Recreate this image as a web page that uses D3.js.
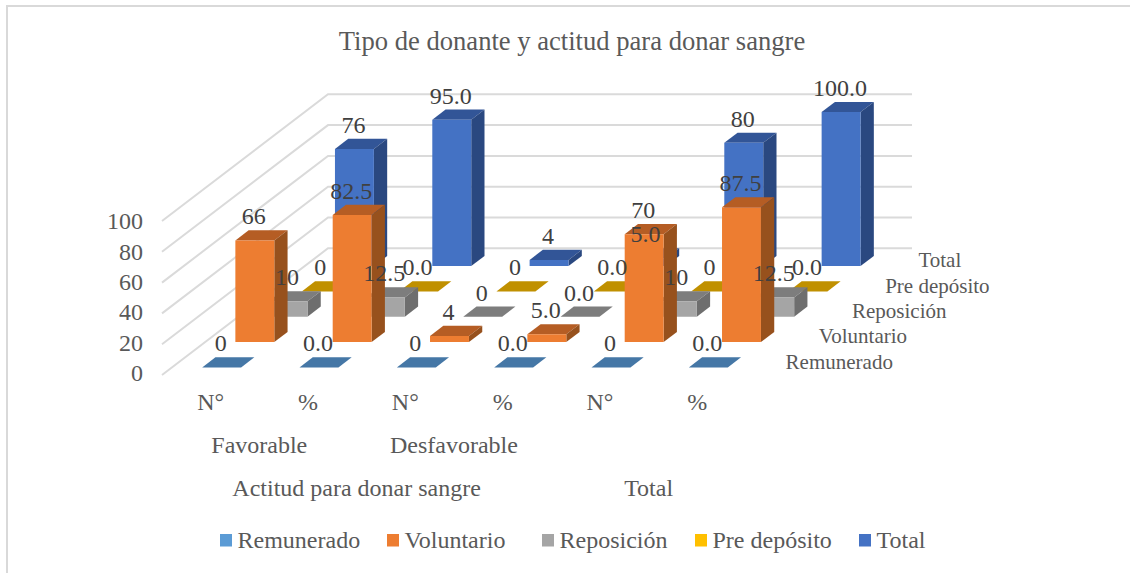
<!DOCTYPE html>
<html>
<head>
<meta charset="utf-8">
<script src="https://cdn.jsdelivr.net/npm/d3@7"></script>
<style>
  html, body { margin: 0; padding: 0; background: #fff; }
  svg { display: block; }
  text { font-family: "Liberation Serif", "Times New Roman", serif; fill: #595959; }
</style>
</head>
<body>
<div id="chart"></div>
<script>
const seriesNames = ['Remunerado', 'Voluntario', 'Reposición', 'Pre depósito', 'Total'];
const columns = ['N°', '%', 'N° ', '% ', 'N°  ', '%  '];
const attitudes = ['Favorable', 'Desfavorable', ''];
const groups = ['Actitud para donar sangre', 'Total'];
const yTicks = [0, 20, 40, 60, 80, 100];

const remunerado = [0, 0, 0, 0, 0, 0];
const voluntario = [66, 82.5, 4, 5, 70, 87.5];
const reposicion = [10, 12.5, 0, 0, 10, 12.5];
const preDeposito = [0, 0, 0, 0, 0, 0];
const total = [76, 95, 4, 5, 80, 100];
const seriesValues = [remunerado, voluntario, reposicion, preDeposito, total];

const front = ['#5B9BD5', '#ED7D31', '#A5A5A5', '#FFC000', '#4472C4'];
const topFace = ['#4577A6', '#B55D24', '#7D7D7D', '#C09000', '#325597'];
const sideFace = ['#3A6389', '#97511D', '#6E6E6E', '#9E7600', '#2A4880'];

const width = 1130, height = 573;
const svg = d3.select('#chart').append('svg').attr('width', width).attr('height', height);

// frame of the chart, only top and left are visible in the picture
svg.append('path')
  .attr('d', `M7,${height}V6H${width}`)
  .attr('fill', 'none').attr('stroke', '#D9D9D9').attr('stroke-width', 2);

// oblique projection: floor position across, depth, then height
const floorLeft = 162, floorFront = 375, floorWidth = 584;
const x = d3.scaleBand().domain(columns).range([1, floorWidth + 1]).paddingInner(0.6).paddingOuter(0.3);
const z = d3.scaleBand().domain(seriesNames).range([0, 5]).paddingInner(0.6).paddingOuter(0.3);
const depthX = d3.scaleLinear().domain([0, 5]).range([0, 166]);
const depthY = d3.scaleLinear().domain([0, 5]).range([0, 126.7]);
const h = d3.scaleLinear().domain([0, 100]).range([0, 154]);

const px = (u, d) => floorLeft + u + depthX(d);
const py = (d, v) => floorFront - depthY(d) - h(v);
const poly = pts => 'M' + pts.map(p => p.join(',')).join('L') + 'Z';

// gridlines on side wall and back wall
const grid = svg.append('g').attr('fill', 'none').attr('stroke', '#DADADA').attr('stroke-width', 2);
yTicks.forEach(v => {
  grid.append('path').attr('d', `M${px(0, 0)},${py(0, v)}L${px(0, 5)},${py(5, v)}L${px(floorWidth, 5)},${py(5, v)}`);
});

// bars, back row first so nearer rows cover them
const bars = svg.append('g');
d3.range(seriesNames.length - 1, -1, -1).forEach(s => {
  const name = seriesNames[s];
  const d0 = z(name), d1 = d0 + z.bandwidth();
  const row = bars.append('g').attr('class', 'series');
  seriesValues[s].forEach((v, i) => {
    const u0 = x(columns[i]), u1 = u0 + x.bandwidth();
    const g = row.append('g');
    g.append('path').attr('fill', topFace[s]).attr('d', poly([
      [px(u0, d0), py(d0, v)], [px(u1, d0), py(d0, v)], [px(u1, d1), py(d1, v)], [px(u0, d1), py(d1, v)]
    ]));
    if (v > 0) {
      g.append('path').attr('fill', sideFace[s]).attr('d', poly([
        [px(u1, d0), py(d0, v)], [px(u1, d1), py(d1, v)], [px(u1, d1), py(d1, 0)], [px(u1, d0), py(d0, 0)]
      ]));
      g.append('path').attr('fill', front[s]).attr('d', poly([
        [px(u0, d0), py(d0, v)], [px(u1, d0), py(d0, v)], [px(u1, d0), py(d0, 0)], [px(u0, d0), py(d0, 0)]
      ]));
    }
  });
});

// data labels go over every bar
const labels = svg.append('g').attr('text-anchor', 'middle').attr('font-size', 24);
d3.range(seriesNames.length - 1, -1, -1).forEach(s => {
  const d0 = z(seriesNames[s]);
  seriesValues[s].forEach((v, i) => {
    labels.append('text')
      .attr('x', px(x(columns[i]) + x.bandwidth() / 2, d0) - 1)
      .attr('y', py(d0, v) - 16)
      .style('fill', '#404040')
      .text(i % 2 ? v.toFixed(1) : v);
  });
});

// value axis
const yAxis = d3.scaleLinear().domain([0, 100]).range([373, 221]);
const axisG = svg.append('g').attr('transform', 'translate(146,0)')
  .call(d3.axisLeft(yAxis).tickValues(yTicks).tickSize(0).tickPadding(3));
axisG.select('.domain').remove();
axisG.selectAll('text').attr('font-size', 24).attr('font-family', null);

// category axis, three levels
const catX = c => px(x(c) + x.bandwidth() / 2, z(seriesNames[0])) - 11;
const catAxis = svg.append('g').attr('text-anchor', 'middle').attr('font-size', 24);
columns.forEach(c => catAxis.append('text').attr('x', catX(c)).attr('y', 410).text(c.trim()));
attitudes.forEach((a, i) => {
  catAxis.append('text')
    .attr('x', (catX(columns[i * 2]) + catX(columns[i * 2 + 1])) / 2)
    .attr('y', 453).text(a);
});
catAxis.append('text').attr('x', (catX(columns[0]) + catX(columns[3])) / 2).attr('y', 496).text(groups[0]);
catAxis.append('text').attr('x', (catX(columns[4]) + catX(columns[5])) / 2).attr('y', 496).text(groups[1]);

// depth axis
const depthAxis = svg.append('g').attr('font-size', 21);
seriesNames.forEach(name => {
  const d = z(name) + z.bandwidth() / 2;
  depthAxis.append('text')
    .attr('x', px(floorWidth, d) + 23)
    .attr('y', py(d, 0) + 6.5)
    .text(name);
});

// title
svg.append('text').attr('x', 572).attr('y', 50).attr('text-anchor', 'middle')
  .attr('font-size', 26.6).text('Tipo de donante y actitud para donar sangre');

// legend
const legendX = [220, 387, 542, 695, 859];
const legend = svg.append('g');
seriesNames.forEach((name, i) => {
  legend.append('rect').attr('x', legendX[i]).attr('y', 534).attr('width', 12).attr('height', 12.5).attr('fill', front[i]);
  legend.append('text').attr('x', legendX[i] + 17.5).attr('y', 548).attr('font-size', 24).text(name);
});
</script>
</body>
</html>
